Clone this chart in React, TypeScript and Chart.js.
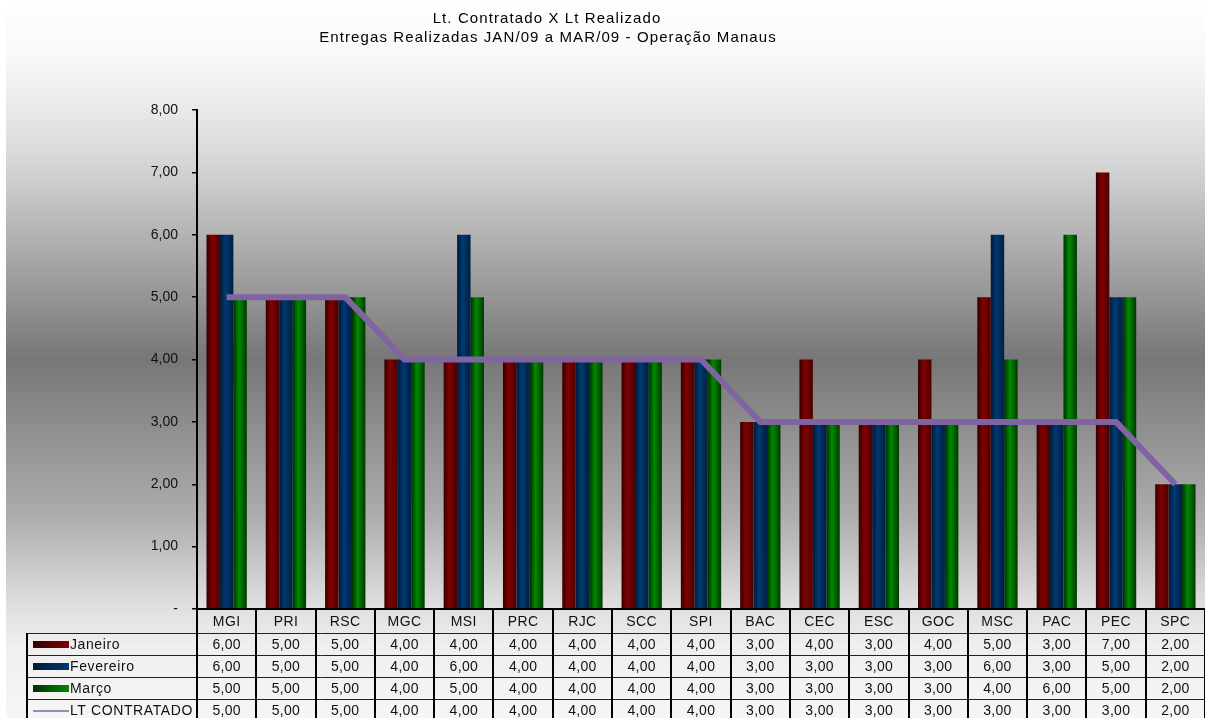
import React, { useEffect, useRef } from 'react';
import { Chart, registerables } from 'chart.js';

Chart.register(...registerables);

const categories = ['MGI', 'PRI', 'RSC', 'MGC', 'MSI', 'PRC', 'RJC', 'SCC', 'SPI', 'BAC', 'CEC', 'ESC', 'GOC', 'MSC', 'PAC', 'PEC', 'SPC'];
const janeiro = [6, 5, 5, 4, 4, 4, 4, 4, 4, 3, 4, 3, 4, 5, 3, 7, 2];
const fevereiro = [6, 5, 5, 4, 6, 4, 4, 4, 4, 3, 3, 3, 3, 6, 3, 5, 2];
const marco = [5, 5, 5, 4, 5, 4, 4, 4, 4, 3, 3, 3, 3, 4, 6, 5, 2];
const ltContratado = [5, 5, 5, 4, 4, 4, 4, 4, 4, 3, 3, 3, 3, 3, 3, 3, 2];
const seriesNames = ['Janeiro', 'Fevereiro', 'Março', 'LT CONTRATADO'];
const yTicks = [0, 1, 2, 3, 4, 5, 6, 7, 8];
const titleLines = ['Lt. Contratado X Lt Realizado', 'Entregas Realizadas JAN/09 a MAR/09 - Operação Manaus'];

const FONT = "'Liberation Sans', Arial, sans-serif";
const CAT_PCT = 0.68;
const LINE_COLOR = '#8064A2';
const shades = [
  ['#330000', '#820000', '#4a0000'],
  ['#001a38', '#003a72', '#001e40'],
  ['#002e00', '#008a00', '#003800'],
];

const fmt = (v: number) => v.toFixed(2).replace('.', ',');

function barGradient(ctx: any, dsIndex: number) {
  const chart = ctx.chart;
  const xs = chart.scales && chart.scales.x;
  const sh = shades[dsIndex];
  if (!xs || ctx.dataIndex === undefined || !chart.chartArea) return sh[1];
  const n = categories.length;
  const catW = (xs.right - xs.left) / n;
  const barW = (catW * CAT_PCT) / 3;
  const c = xs.getPixelForValue(ctx.dataIndex);
  const left = c - (catW * CAT_PCT) / 2 + dsIndex * barW;
  const g = chart.ctx.createLinearGradient(left, 0, left + barW, 0);
  g.addColorStop(0, sh[0]);
  g.addColorStop(0.42, sh[1]);
  g.addColorStop(1, sh[2]);
  return g;
}

const bgPlugin = {
  id: 'bgPlugin',
  beforeDraw(chart: any) {
    const { ctx, width, height } = chart;
    ctx.save();
    ctx.fillStyle = '#ffffff';
    ctx.fillRect(0, 0, width, height);
    const g = ctx.createLinearGradient(0, 0, 0, height);
    g.addColorStop(0, '#ffffff');
    g.addColorStop(0.08, '#f8f8f8');
    g.addColorStop(0.14, '#ececec');
    g.addColorStop(0.22, '#d8d8d8');
    g.addColorStop(0.5, '#777777');
    g.addColorStop(0.72, '#adadad');
    g.addColorStop(0.84, '#dedede');
    g.addColorStop(0.9, '#efefef');
    g.addColorStop(1, '#f6f6f6');
    ctx.fillStyle = g;
    ctx.fillRect(6, 0, width - 6, height);
    ctx.restore();
  },
};

const overlayPlugin = {
  id: 'overlayPlugin',
  afterDraw(chart: any) {
    const { ctx, chartArea } = chart;
    const xs = chart.scales.x;
    const n = categories.length;
    const catW = (chartArea.right - chartArea.left) / n;
    const axisY = chartArea.bottom;
    const headerBottom = axisY + 24;
    const rowH = 22;
    const tableLeft = 27;
    const bottom = chart.height + 5;
    ctx.save();

    // title
    ctx.fillStyle = '#000';
    ctx.font = `15px ${FONT}`;
    (ctx as any).letterSpacing = '1.1px';
    ctx.textAlign = 'center';
    ctx.textBaseline = 'middle';
    ctx.fillText(titleLines[0], 547, 19);
    ctx.fillText(titleLines[1], 548, 38);
    (ctx as any).letterSpacing = '0px';

    // horizontal row lines
    ctx.strokeStyle = '#222';
    ctx.lineWidth = 1;
    for (let r = 0; r < 4; r++) {
      const y = Math.round(headerBottom + r * rowH) + 0.5;
      ctx.beginPath();
      ctx.moveTo(tableLeft, y);
      ctx.lineTo(chartArea.right, y);
      ctx.stroke();
    }
    // vertical lines
    ctx.strokeStyle = '#000';
    ctx.lineWidth = 2;
    for (let k = 0; k <= n; k++) {
      const x = Math.round(chartArea.left + k * catW);
      ctx.beginPath();
      ctx.moveTo(x, axisY);
      ctx.lineTo(x, bottom);
      ctx.stroke();
    }
    ctx.beginPath();
    ctx.moveTo(tableLeft, headerBottom);
    ctx.lineTo(tableLeft, bottom);
    ctx.stroke();
    // x axis line
    ctx.beginPath();
    ctx.moveTo(chartArea.left - 1, axisY);
    ctx.lineTo(chartArea.right, axisY);
    ctx.stroke();

    // header labels
    ctx.fillStyle = '#111';
    ctx.font = `14px ${FONT}`;
    (ctx as any).letterSpacing = '0.4px';
    ctx.textAlign = 'center';
    categories.forEach((c, i) => {
      ctx.fillText(c, xs.getPixelForValue(i), axisY + 13);
    });

    const rows = [janeiro, fevereiro, marco, ltContratado];
    rows.forEach((vals, r) => {
      const cy = headerBottom + r * rowH + rowH / 2 + 1;
      // legend key
      if (r < 3) {
        const sh = shades[r];
        const g = ctx.createLinearGradient(33, 0, 69, 0);
        g.addColorStop(0, sh[0]);
        g.addColorStop(1, sh[1]);
        ctx.fillStyle = g;
        ctx.fillRect(33, cy - 4, 36, 7);
      } else {
        ctx.strokeStyle = LINE_COLOR;
        ctx.lineWidth = 1.5;
        ctx.beginPath();
        ctx.moveTo(33, cy);
        ctx.lineTo(69, cy);
        ctx.stroke();
      }
      ctx.fillStyle = '#111';
      ctx.textAlign = 'left';
      (ctx as any).letterSpacing = '0.6px';
      ctx.fillText(seriesNames[r], 70, cy);
      (ctx as any).letterSpacing = '0.3px';
      ctx.textAlign = 'center';
      vals.forEach((v, i) => {
        ctx.fillText(fmt(v), xs.getPixelForValue(i), cy);
      });
    });
    (ctx as any).letterSpacing = '0px';
    ctx.restore();
  },
};

export default function App() {
  const ref = useRef<HTMLCanvasElement>(null);
  useEffect(() => {
    if (!ref.current) return;
    const barDs = [janeiro, fevereiro, marco].map((d, i) => ({
      type: 'bar' as const,
      label: seriesNames[i],
      data: d,
      backgroundColor: (ctx: any) => barGradient(ctx, i),
      borderWidth: 0,
      categoryPercentage: CAT_PCT,
      barPercentage: 1,
      order: 2,
    }));
    const chart = new Chart(ref.current, {
      type: 'bar',
      data: {
        labels: categories,
        datasets: [
          ...barDs,
          {
            type: 'line' as const,
            label: seriesNames[3],
            data: ltContratado,
            borderColor: LINE_COLOR,
            borderWidth: 6,
            pointRadius: 0,
            tension: 0,
            fill: false,
            borderJoinStyle: 'round',
            order: 1,
          } as any,
        ],
      },
      options: {
        animation: false,
        responsive: false,
        devicePixelRatio: 1,
        layout: { padding: { left: 0, right: 0, top: 110, bottom: 109 } },
        plugins: {
          legend: { display: false },
          tooltip: { enabled: false },
          title: { display: false },
        },
        scales: {
          x: { display: false, offset: true },
          y: {
            min: 0,
            max: 8,
            afterFit: (s: any) => { s.width = 197; },
            afterBuildTicks: (s: any) => { s.ticks = yTicks.map((v) => ({ value: v })); },
            ticks: {
              padding: 14,
              color: '#111',
              font: { family: FONT, size: 14 },
              callback: (v: any) => (Number(v) === 0 ? '-' : fmt(Number(v))),
            },
            grid: { drawOnChartArea: false, drawTicks: true, tickLength: 5, color: '#000', lineWidth: 1.5 },
            border: { display: true, color: '#000', width: 2 },
          },
        },
      },
      plugins: [bgPlugin, overlayPlugin],
    });
    return () => chart.destroy();
  }, []);
  return (
    <div style={{ position: 'fixed', left: 0, top: 0, width: 1205, height: 718 }}>
      <canvas ref={ref} width={1205} height={718} style={{ display: 'block' }} />
    </div>
  );
}
